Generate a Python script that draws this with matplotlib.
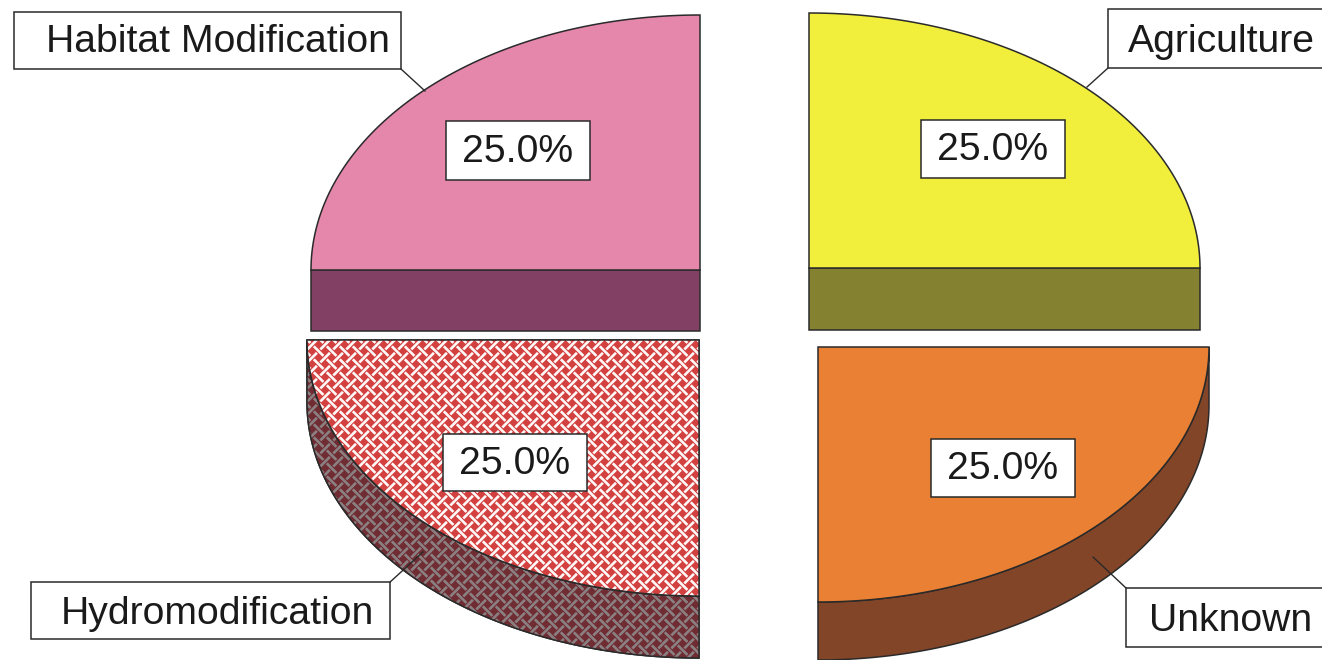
import numpy as np
import matplotlib
matplotlib.use("Agg")
import matplotlib.pyplot as plt
from matplotlib.patches import Polygon, Rectangle

plt.rcParams['font.family'] = ['Liberation Sans', 'DejaVu Sans']

# ---- data
categories = ["Agriculture", "Unknown", "Hydromodification", "Habitat Modification"]
values = [25.0, 25.0, 25.0, 25.0]

# ---- style
top_colors = ["#F2EE3C", "#EA8034", "#D2403F", "#E587AB"]
side_colors = ["#848230", "#824528", "#702C33", "#824065"]
centers = [(809, 268), (818, 347), (699, 340), (700, 270)]
radii = [(391, 255), (391, 255), (392, 256), (389, 255)]
depths = [62, 58, 62, 61]
pct_boxes = [(921, 120, 144, 58), (931, 439, 144, 58), (443, 434, 144, 57), (446, 121, 144, 59)]
label_boxes = [(1108, 9, 225, 59), (1126, 588, 210, 59), (31, 582, 359, 57), (14, 12, 387, 57)]
label_text_x = [1128, 1149, 61, 46]
label_text_y = [41.5, 621, 614, 42]
leaders = [((1108, 68), (1087, 87)), ((1126, 588), (1093, 557)),
           ((389, 583), (423, 552)), ((401, 69), (425, 91))]
hatched = 2
EDGE = "#2a2a2a"
TEXT = "#1a1a1a"

fig = plt.figure(figsize=(13.22, 6.6), dpi=100, facecolor="white")
ax = fig.add_axes([0, 0, 1, 1])
ax.set_xlim(0, 1322)
ax.set_ylim(660, 0)
ax.axis("off")


def weave(c1, c2, h=660, w=1322, cell=13.0, half=0.15, gap=0.10, ss=4):
    """Plain diagonal weave, supersampled and averaged down to one value per pixel."""
    y, x = np.mgrid[0:h * ss, 0:w * ss] / ss
    u = (x + y) / cell
    v = (x - y) / cell
    iu, iv = np.floor(u).astype(int), np.floor(v).astype(int)
    du, dv = np.abs(u - iu - 0.5), np.abs(v - iv - 0.5)
    even = (iu + iv) % 2 == 0
    in_a, in_b = dv < half, du < half
    strip = np.where(even,
                     in_a | (in_b & (dv > half + gap)),
                     in_b | (in_a & (du > half + gap)))
    frac = strip.reshape(h, ss, w, ss).mean(axis=(1, 3))[..., None]
    a = np.array(matplotlib.colors.to_rgb(c1))
    b = np.array(matplotlib.colors.to_rgb(c2))
    return a * (1 - frac) + b * frac


def textured(poly, c1, c2, z):
    im = ax.imshow(weave(c1, c2), extent=(0, 1322, 660, 0), aspect="auto",
                   interpolation="nearest", zorder=z)
    im.set_clip_path(poly)


total = sum(values)
cum = 0.0
for i, v in enumerate(values):
    t0 = 2 * np.pi * cum / total
    t1 = 2 * np.pi * (cum + v) / total
    cum += v
    t = np.linspace(t0, t1, 120)
    cx, cy = centers[i]
    rx, ry = radii[i]
    d = depths[i]
    ex = cx + rx * np.sin(t)
    ey = cy - ry * np.cos(t)
    arc = np.column_stack([ex, ey])
    top = np.vstack([[cx, cy], arc])

    # rim / cut face
    if np.cos((t0 + t1) / 2) < 0:
        rim = np.vstack([arc, (arc + [0, d])[::-1]])
    else:
        # back slices show the flat cut face below the centre line
        x0, x1 = sorted([cx, cx + rx * (np.sin(t0) + np.sin(t1))])
        rim = np.array([[x0, cy], [x1, cy], [x1, cy + d], [x0, cy + d]])
    side = Polygon(rim, closed=True, fc=side_colors[i], ec=EDGE, lw=1.1, zorder=2)
    ax.add_patch(side)
    if i == hatched:
        textured(side, "#702C33", "#8A8082", 2.1)
        ax.add_patch(Polygon(rim, closed=True, fc="none", ec=EDGE, lw=1.1, zorder=2.2))

    surf = Polygon(top, closed=True, fc=top_colors[i], ec=EDGE, lw=1.1, zorder=3)
    ax.add_patch(surf)
    if i == hatched:
        textured(surf, "#D2403F", "#FFF6F6", 3.1)
        ax.add_patch(Polygon(top, closed=True, fc="none", ec=EDGE, lw=1.1, zorder=3.2))

    # percentage box
    bx, by, bw, bh = pct_boxes[i]
    ax.add_patch(Rectangle((bx, by), bw, bh, fc="white", ec=EDGE, lw=1.1, zorder=5))
    ax.text(bx + bw / 2, by + bh / 2 + 1, f"{100 * v / total:.1f}%", ha="center", va="center",
            fontsize=28.2, color=TEXT, zorder=6)

    # category label + leader
    (lx0, ly0), (lx1, ly1) = leaders[i]
    ax.plot([lx0, lx1], [ly0, ly1], color=EDGE, lw=1.0, zorder=4)
    bx, by, bw, bh = label_boxes[i]
    ax.add_patch(Rectangle((bx, by), bw, bh, fc="white", ec=EDGE, lw=1.1, zorder=5, clip_on=True))
    ax.text(label_text_x[i], label_text_y[i], categories[i], ha="left", va="center",
            fontsize=28.2, color=TEXT, zorder=6)

fig.savefig("out.png", dpi=100)
